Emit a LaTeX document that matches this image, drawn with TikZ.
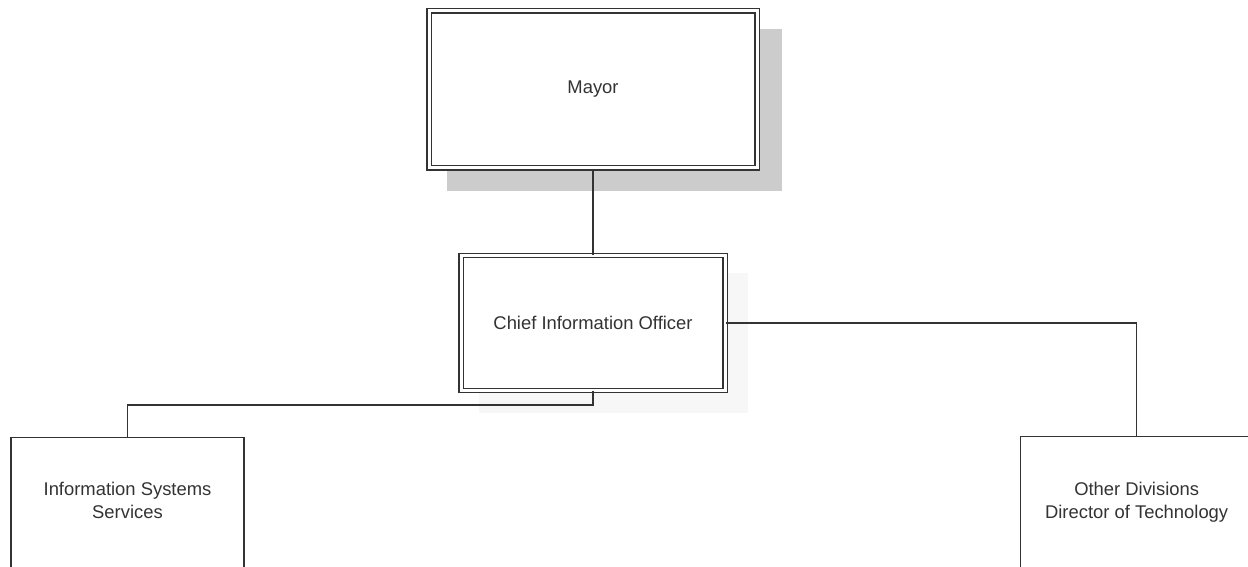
\documentclass[tikz,border=0pt]{standalone}
\usepackage{fontspec}
\setmainfont{Liberation Sans}
\begin{document}
\begin{tikzpicture}[x=1pt,y=-1pt,
  ink/.style={draw=black!80, line width=1.3pt},
  dblbox/.style={draw=black!80, line width=1.2pt, double=white, double distance=3pt,
    fill=white, rectangle, inner sep=0pt},
  plainbox/.style={ink, fill=white, rectangle, inner sep=0pt},
  lbl/.style={text=black!80, font=\fontsize{18.4}{23}\selectfont, align=center, inner sep=0pt},
  link/.style={ink}]
\useasboundingbox (0,0) rectangle (1248,567);
\clip (0,0) rectangle (1248,567);
\fill[white] (0,0) rectangle (1248,567);

% drop shadows
\fill[black!20] (447,29) rectangle (782,191);
\fill[black!3] (479,273) rectangle (748,413);

% boxes
\node[dblbox, minimum width=328pt, minimum height=157pt] (mayor) at (593,89.5) {};
\node[lbl] at (mayor.center) {Mayor};
\node[dblbox, minimum width=264pt, minimum height=134.5pt] (cio) at (593,323) {};
\node[lbl] at (cio.center) {Chief Information Officer};
\node[plainbox, minimum width=233pt, minimum height=200pt, anchor=north] (iss) at (127.5,437) {};
\node[lbl, anchor=north] (isst) at ([yshift=-45pt]iss.north) {Information Systems\\Services};
\node[plainbox, minimum width=232pt, minimum height=200pt, anchor=north west] (oth) at (1020,436) {};
\node[lbl, anchor=north] (otht) at ([yshift=-46pt]oth.north) {Other Divisions\\Director of Technology};

% connectors
\coordinate (split) at (593,405);
\draw[link] (mayor.south) -- (cio.north);
\draw[link] (cio.south) -- (split) -| (iss.north);
\draw[link] (cio.east) -| (oth.north);
\end{tikzpicture}
\end{document}
